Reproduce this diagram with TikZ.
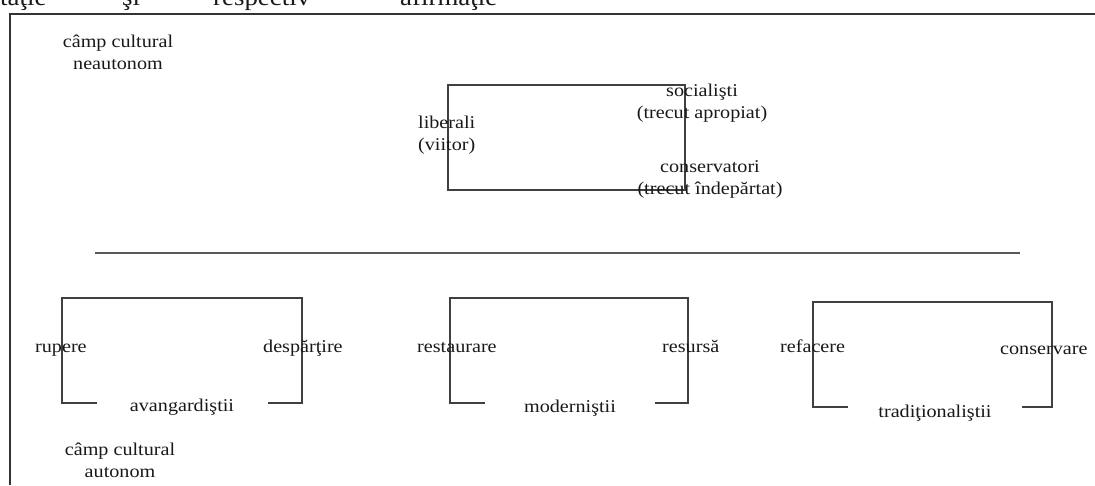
\documentclass[tikz,border=0pt]{standalone}
\usepackage{fontspec}
\setmainfont{Liberation Serif}[FakeStretch=1.12]
\usetikzlibrary{positioning}

\tikzset{
  lbl/.style={font=\fontsize{18}{22}\selectfont,text=black!90,inner sep=0pt},
  frm/.style={draw=black!80,line width=2pt},
  brk/.style={draw=black!75,line width=1.5pt}
}

\begin{document}
\begin{tikzpicture}[x=1pt,y=1pt]
\clip (0,0) rectangle (1095,485);
\fill[white] (0,0) rectangle (1095,485);

% cut line of text above the frame
\node[lbl,font=\fontsize{24}{28}\selectfont,anchor=base west] (w1) at (0,479) {taţie};
\node[lbl,font=\fontsize{24}{28}\selectfont,anchor=base west] (w2) at (122,479) {şi};
\node[lbl,font=\fontsize{24}{28}\selectfont,anchor=base west] (w3) at (213,479) {respectiv};
\node[lbl,font=\fontsize{24}{28}\selectfont,anchor=base west] (w4) at (400,479) {afirmaţie};

% frame
\draw[frm] (10,0) -- (10,471) -- (1096,471);

% upper part
\node[lbl,align=center,anchor=base] (neauto) at (118,415) {câmp cultural\\neautonom};
\draw[brk] (448,400) rectangle (685,295);
\node[lbl,align=left,anchor=base west] (liberali) at (418,334) {liberali\\(viitor)};
\node[lbl,align=center,anchor=base] (socialisti) at (702,366) {socialişti\\(trecut apropiat)};
\node[lbl,align=center,anchor=base] (conservatori) at (710,290) {conservatori\\(trecut îndepărtat)};

\draw[brk,draw=black!65] (95,232) -- (1020,232);

% avangardistii
\draw[brk] (97,82) -- (62,82) -- (62,187) -- (302,187) -- (302,82) -- (268,82);
\node[lbl,anchor=base west] (rupere) at (35,132) {rupere};
\node[lbl,anchor=base west] (despartire) at (263,132) {despărţire};
\node[lbl,anchor=base] (avangardistii) at (182,74) {avangardiştii};
\node[lbl,align=center,anchor=base] (auto) at (120,8) {câmp cultural\\autonom};

% modernistii
\draw[brk] (485,82) -- (450,82) -- (450,187) -- (688,187) -- (688,82) -- (655,82);
\node[lbl,anchor=base west] (restaurare) at (417,132) {restaurare};
\node[lbl,anchor=base west] (resursa) at (662,132) {resursă};
\node[lbl,anchor=base] (modernistii) at (570,73) {moderniştii};

% traditionalistii
\draw[brk] (848,78) -- (813,78) -- (813,183) -- (1052,183) -- (1052,78) -- (1022,78);
\node[lbl,anchor=base west] (refacere) at (780,132) {refacere};
\node[lbl,anchor=base west] (conservare) at (1000,130) {conservare};
\node[lbl,anchor=base] (traditionalistii) at (935,68) {tradiţionaliştii};

\end{tikzpicture}
\end{document}
